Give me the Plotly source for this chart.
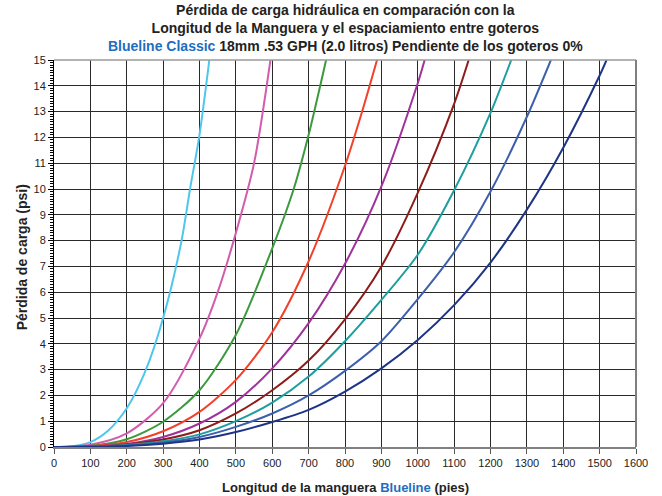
import plotly.graph_objects as go

# Longitud de manguera (pies) y pérdida de carga (psi)
x_celeste = [0, 50, 100, 150, 200, 250, 300, 350, 374, 400, 427]
y_celeste = [0, 0.03, 0.19, 0.65, 1.5, 2.9, 5.0, 7.95, 10.0, 12.1, 15]

x_rosa = [0, 100, 200, 300, 400, 450, 500, 550, 595]
y_rosa = [0, 0.09, 0.53, 1.7, 4.2, 6.0, 8.3, 11.0, 15]

x_verde = [0, 100, 200, 300, 400, 500, 600, 659, 700, 748]
y_verde = [0, 0.04, 0.3, 0.98, 2.2, 4.35, 7.7, 10.0, 12.1, 15]

x_rojo = [0, 100, 200, 300, 400, 500, 600, 700, 800, 847, 888]
y_rojo = [0, 0.03, 0.19, 0.61, 1.36, 2.6, 4.45, 7.2, 10.9, 13.0, 15]

x_morado = [0, 100, 200, 300, 400, 500, 600, 700, 800, 900, 1000, 1019]
y_morado = [0, 0.02, 0.12, 0.39, 0.91, 1.75, 3.05, 4.8, 7.1, 10.1, 14.1, 15]

x_marron = [0, 100, 200, 300, 400, 500, 600, 700, 800, 900, 1000, 1100, 1140]
y_marron = [0, 0.02, 0.1, 0.29, 0.65, 1.3, 2.2, 3.35, 4.95, 7.0, 9.85, 13.3, 15]

x_turquesa = [0, 100, 200, 300, 400, 500, 600, 700, 800, 900, 1000, 1100, 1200, 1257]
y_turquesa = [0, 0.02, 0.08, 0.22, 0.49, 1.0, 1.72, 2.73, 4.1, 5.7, 7.45, 9.95, 12.95, 15]

x_azul = [0, 100, 200, 300, 400, 500, 600, 700, 800, 900, 1000, 1100, 1200, 1300, 1366]
y_azul = [0, 0.01, 0.06, 0.17, 0.39, 0.78, 1.3, 2.0, 2.95, 4.1, 5.73, 7.55, 9.9, 12.8, 15]

x_marino = [0, 100, 200, 300, 400, 500, 600, 700, 800, 900, 1000, 1100, 1200, 1300, 1400, 1500, 1519]
y_marino = [0, 0.01, 0.04, 0.13, 0.29, 0.58, 0.97, 1.44, 2.15, 3.05, 4.15, 5.5, 7.15, 9.2, 11.6, 14.4, 15]

series = [
    (x_celeste, y_celeste, "#4FC6EE"),
    (x_rosa, y_rosa, "#D35CAE"),
    (x_verde, y_verde, "#3C9A3E"),
    (x_rojo, y_rojo, "#F2402A"),
    (x_morado, y_morado, "#A0329A"),
    (x_marron, y_marron, "#8E1C1A"),
    (x_turquesa, y_turquesa, "#1E9E9E"),
    (x_azul, y_azul, "#3D5FAE"),
    (x_marino, y_marino, "#1E3487"),
]

x_ticks = list(range(0, 1700, 100))
y_ticks = list(range(0, 16))

fig = go.Figure()
for xs, ys, col in series:
    fig.add_trace(go.Scatter(x=xs, y=ys, mode="lines",
                             line=dict(color=col, width=2, shape="spline", smoothing=0.8),
                             showlegend=False, hoverinfo="skip"))

font_fam = "Liberation Sans, Arial, sans-serif"
fig.update_layout(
    width=662, height=496,
    margin=dict(l=54, r=26, t=60, b=49),
    paper_bgcolor="white", plot_bgcolor="white",
    font=dict(family=font_fam, size=11, color="#222"),
    showlegend=False,
)
fig.update_xaxes(
    range=[0, 1600], tickvals=x_ticks, ticktext=[str(v) for v in x_ticks],
    showgrid=True, gridcolor="#2a2a2a", gridwidth=1,
    showline=True, linecolor="#808080", linewidth=2,
    ticks="outside", ticklen=5, tickcolor="#555", tickwidth=1,
    zeroline=False, fixedrange=True, automargin=False,
)
fig.update_yaxes(
    range=[0, 15], tickvals=y_ticks, ticktext=[str(v) for v in y_ticks],
    showgrid=True, gridcolor="#2a2a2a", gridwidth=1,
    showline=True, linecolor="black", linewidth=1,
    ticks="outside", ticklen=5, tickcolor="black", tickwidth=1,
    minor=dict(dtick=0.1, ticks="outside", ticklen=3, tickcolor="black", showgrid=False),
    zeroline=False, fixedrange=True, automargin=False,
)
# borde superior y derecho
fig.add_shape(type="line", xref="paper", yref="paper", x0=0, x1=1, y0=1, y1=1,
              line=dict(color="#9a9a9a", width=1.5))
fig.add_shape(type="line", xref="paper", yref="paper", x0=1, x1=1, y0=0, y1=1,
              line=dict(color="#808080", width=2))

fig.add_annotation(
    xref="paper", yref="paper", x=0.5, y=1, yshift=4, xanchor="center", yanchor="bottom",
    showarrow=False, align="center",
    font=dict(family=font_fam, size=14, color="#222"),
    text=("<b>Pérdida de carga hidráulica en comparación con la</b><br>"
          "<b>Longitud de la Manguera y el espaciamiento entre goteros</b><br>"
          "<b><span style='color:#1F6DBF'>Blueline Classic</span> 18mm .53 GPH (2.0 litros) Pendiente de los goteros 0%</b>"),
)
fig.add_annotation(
    xref="paper", yref="paper", x=0.5, y=0, yshift=-31, xanchor="center", yanchor="top",
    showarrow=False, font=dict(family=font_fam, size=13, color="#222"),
    text="<b>Longitud de la manguera <span style='color:#1F6DBF'>Blueline</span> (pies)</b>",
)
fig.add_annotation(
    xref="paper", yref="paper", x=0, y=0.49, xshift=-32, xanchor="center", yanchor="middle",
    showarrow=False, textangle=-90, font=dict(family=font_fam, size=14, color="#222"),
    text="<b>Pérdida de carga (psi)</b>",
)

# remove the browser's default 8px body margin so the figure fills the window
fig.write_html("out.html", config={"displayModeBar": False, "staticPlot": True},
               post_script="document.body.style.margin='0';")
